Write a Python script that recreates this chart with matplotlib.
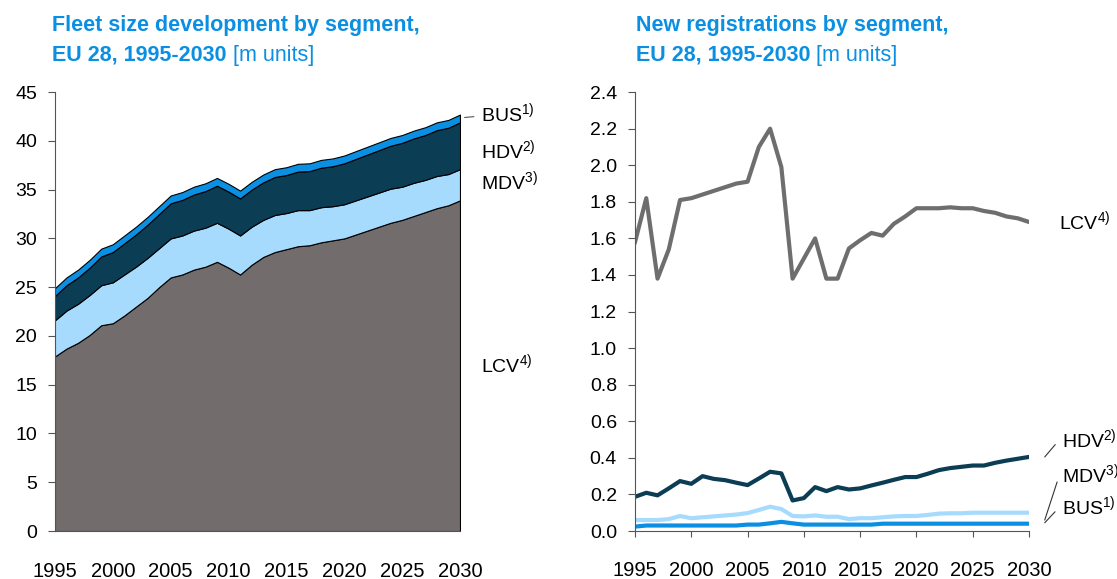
#!/usr/bin/env python3
"""Fleet size and new registrations by vehicle segment, EU 28, 1995-2030."""

import matplotlib.pyplot as plt
import numpy as np

plt.rcParams['font.family'] = ['Liberation Sans', 'DejaVu Sans']

years = np.arange(1995, 2031)

# fleet size, stacked layers [m units]
fleet_lcv = [17.9, 18.7, 19.3, 20.1, 21.1, 21.3, 22.1, 23.0, 23.9, 25.0,
             26.0, 26.3, 26.8, 27.1, 27.6, 27.0, 26.3, 27.3, 28.1, 28.6,
             28.9, 29.2, 29.3, 29.6, 29.8, 30.0, 30.4, 30.8, 31.2, 31.6,
             31.9, 32.3, 32.7, 33.1, 33.4, 33.9]
fleet_mdv = [3.7, 3.9, 4.0, 4.1, 4.1, 4.2, 4.2, 4.1, 4.1, 4.0,
             4.0, 4.0, 4.0, 4.0, 4.0, 4.0, 4.0, 3.9, 3.8, 3.8,
             3.7, 3.7, 3.6, 3.6, 3.5, 3.5, 3.5, 3.5, 3.5, 3.5,
             3.4, 3.4, 3.3, 3.3, 3.2, 3.2]
fleet_hdv = [2.5, 2.6, 2.7, 2.8, 2.95, 3.1, 3.2, 3.3, 3.4, 3.5,
             3.6, 3.65, 3.7, 3.75, 3.8, 3.8, 3.8, 3.8, 3.85, 3.9,
             3.9, 3.95, 4.0, 4.05, 4.1, 4.2, 4.25, 4.3, 4.35, 4.4,
             4.5, 4.55, 4.6, 4.7, 4.75, 4.8]
fleet_bus = [0.8] * 36

# new registrations [m units]
reg_lcv = [1.58, 1.82, 1.38, 1.54, 1.81, 1.82, 1.84, 1.86, 1.88, 1.90,
           1.91, 2.10, 2.20, 1.99, 1.38, 1.49, 1.60, 1.38, 1.38, 1.545,
           1.59, 1.63, 1.615, 1.68, 1.72, 1.765, 1.765, 1.765, 1.77, 1.765,
           1.765, 1.75, 1.74, 1.72, 1.71, 1.69]
reg_hdv = [0.187, 0.209, 0.195, 0.233, 0.273, 0.258, 0.300, 0.285, 0.278, 0.264,
           0.251, 0.287, 0.324, 0.315, 0.167, 0.180, 0.240, 0.218, 0.240, 0.227,
           0.233, 0.249, 0.264, 0.280, 0.295, 0.295, 0.313, 0.333, 0.344, 0.351,
           0.358, 0.358, 0.373, 0.385, 0.395, 0.405]
reg_mdv = [0.060, 0.060, 0.060, 0.065, 0.082, 0.070, 0.075, 0.080, 0.085, 0.090,
           0.098, 0.115, 0.133, 0.120, 0.082, 0.080, 0.085, 0.078, 0.078, 0.065,
           0.070, 0.070, 0.075, 0.080, 0.082, 0.082, 0.088, 0.095, 0.097, 0.097,
           0.100, 0.100, 0.100, 0.100, 0.100, 0.100]
reg_bus = [0.024, 0.030, 0.030, 0.030, 0.030, 0.030, 0.030, 0.030, 0.030, 0.030,
           0.035, 0.035, 0.042, 0.050, 0.042, 0.035, 0.035, 0.035, 0.035, 0.035,
           0.035, 0.035, 0.040, 0.040, 0.040, 0.040, 0.040, 0.040, 0.040, 0.040,
           0.040, 0.040, 0.040, 0.040, 0.040, 0.040]

C_LCV = '#726d6c'
C_MDV = '#a6dbfd'
C_HDV = '#0b3d55'
C_BUS = '#0a8fe2'
C_TITLE = '#0a8fe2'
C_AXIS = '#555555'
TICK_FS = 14
LABEL_FS = 14
TITLE_FS = 15.5


def label(name, note):
    return name + r'$^{\mathregular{' + note + ')}}$'


def style(ax):
    for side in ('top', 'right'):
        ax.spines[side].set_visible(False)
    for side in ('left', 'bottom'):
        ax.spines[side].set_color(C_AXIS)
    ax.tick_params(axis='y', length=5, color=C_AXIS, pad=8, labelsize=TICK_FS)
    ax.set_xticks(np.arange(1995, 2031, 5))


fig = plt.figure(figsize=(11.17, 5.79), dpi=100)
ax1 = fig.add_axes([0.0492, 0.0829, 0.3626, 0.758])
ax2 = fig.add_axes([0.5685, 0.0829, 0.3527, 0.758])

# left: stacked area
ax1.stackplot(years, fleet_lcv, fleet_mdv, fleet_hdv, fleet_bus,
              colors=[C_LCV, C_MDV, C_HDV, C_BUS], edgecolor='black', linewidth=0.8)
ax1.set_xlim(1995, 2030)
ax1.set_ylim(0, 45)
ax1.set_yticks(np.arange(0, 46, 5))
style(ax1)
ax1.tick_params(axis='x', length=0, pad=22, labelsize=14.5)

top = np.cumsum([fleet_lcv, fleet_mdv, fleet_hdv, fleet_bus], axis=0)[:, -1]
ax1.annotate(label('BUS', '1'), xy=(2030.4, top[3] - 0.3), xytext=(2031.8, 42.8),
             fontsize=LABEL_FS, va='center', annotation_clip=False,
             arrowprops=dict(arrowstyle='-', color=C_AXIS, lw=0.8, shrinkA=3, shrinkB=0,
                             relpos=(0, 0.4)))
ax1.text(2031.8, 39.0, label('HDV', '2'), fontsize=LABEL_FS, va='center')
ax1.text(2031.8, 35.8, label('MDV', '3'), fontsize=LABEL_FS, va='center')
ax1.text(2031.8, 17.0, label('LCV', '4'), fontsize=LABEL_FS, va='center')

# right: lines
ax2.plot(years, reg_lcv, color='#6e6e6e', lw=3)
ax2.plot(years, reg_hdv, color=C_HDV, lw=3)
ax2.plot(years, reg_mdv, color=C_MDV, lw=3)
ax2.plot(years, reg_bus, color=C_BUS, lw=3)
ax2.set_xlim(1995, 2030)
ax2.set_ylim(0, 2.4)
ax2.set_yticks(np.arange(0, 2.41, 0.2))
ax2.set_yticklabels([f'{v:.1f}' for v in np.arange(0, 2.41, 0.2)])
style(ax2)
ax2.tick_params(axis='x', length=4.5, color=C_AXIS, pad=17, labelsize=14.5)

ax2.text(2032.7, reg_lcv[-1], label('LCV', '4'), fontsize=LABEL_FS, va='center')
for name, note, y_text, y_line, rel in (('HDV', '2', 0.50, reg_hdv[-1], 0.6),
                                         ('MDV', '3', 0.31, 0.06, 0.75),
                                         ('BUS', '1', 0.13, 0.045, 0.6)):
    ax2.annotate(label(name, note), xy=(2031.4, y_line), xytext=(2032.9, y_text),
                 fontsize=LABEL_FS, va='center', annotation_clip=False,
                 arrowprops=dict(arrowstyle='-', color='#333333', lw=0.8,
                                 shrinkA=4, shrinkB=0, relpos=(0, rel)))

# titles
for x, line1 in ((0.047, 'Fleet size development by segment,'),
                 (0.569, 'New registrations by segment,')):
    fig.text(x, 1 - 31 / 579, line1, color=C_TITLE, fontsize=TITLE_FS, fontweight='bold',
             va='baseline')
    t2 = fig.text(x, 1 - 61 / 579, 'EU 28, 1995-2030', color=C_TITLE, fontsize=TITLE_FS,
                  fontweight='bold', va='baseline')
    ax1.annotate(' [m units]', xy=(1, 0), xycoords=t2, va='bottom', ha='left',
                 color=C_TITLE, fontsize=TITLE_FS, annotation_clip=False)

fig.savefig('out.png', dpi=100)
